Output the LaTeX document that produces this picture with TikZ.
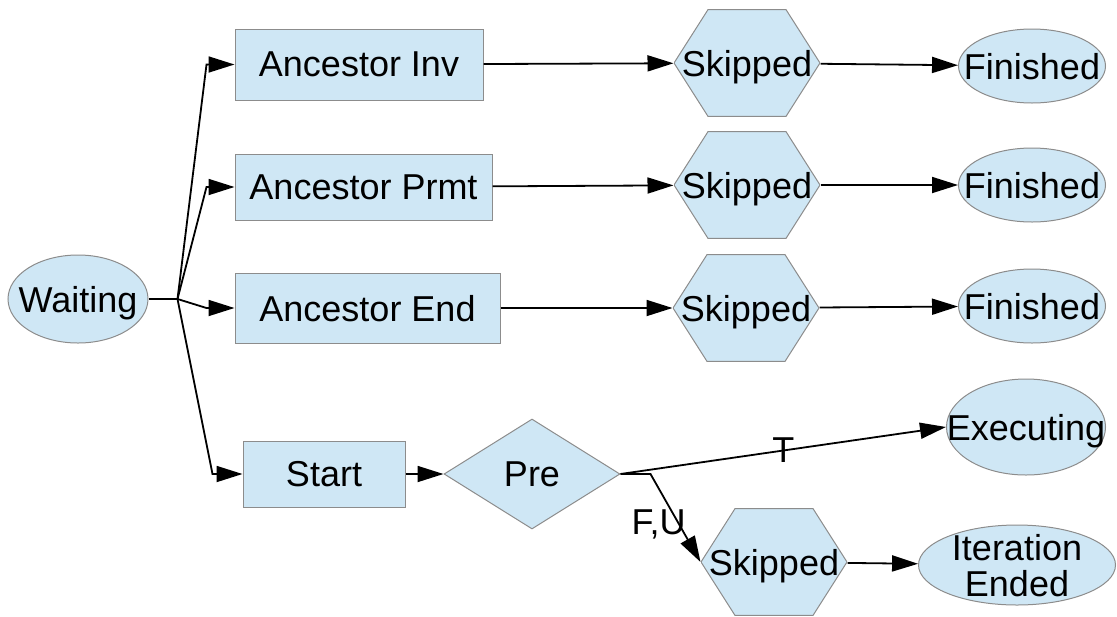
\documentclass[tikz,border=0pt]{standalone}
\usepackage{fontspec}
\setmainfont{Liberation Sans}
\usetikzlibrary{arrows.meta,shapes.geometric}

\definecolor{stfill}{RGB}{207,231,245}
\definecolor{stline}{RGB}{140,140,140}

\begin{document}
\begin{tikzpicture}[x=0.5pt,y=-0.5pt,>={Triangle[length=13pt,width=8pt]},line width=0.9pt,
    every node/.style={font=\fontsize{18}{18}\selectfont,line width=0.5pt,text depth=0pt},
    box/.style={rectangle,draw=stline,fill=stfill,inner sep=0pt},
    oval/.style={ellipse,draw=stline,fill=stfill,inner sep=0pt},
    cond/.style={diamond,draw=stline,fill=stfill,inner sep=0pt,minimum width=88pt,minimum height=55pt},
    hexbox/.style={rectangle,inner sep=0pt,minimum width=73pt,minimum height=54pt,
      path picture={\draw[stline,fill=stfill,line width=0.5pt]
        ([xshift=17pt,yshift=-0.3pt]path picture bounding box.north west)
        -- ([xshift=-17pt,yshift=-0.3pt]path picture bounding box.north east)
        -- (path picture bounding box.east)
        -- ([xshift=-17pt,yshift=0.3pt]path picture bounding box.south east)
        -- ([xshift=17pt,yshift=0.3pt]path picture bounding box.south west)
        -- (path picture bounding box.west) -- cycle;}},
    lbl/.style={inner sep=1pt}]
  \useasboundingbox (0,0) rectangle (1117,616);

  \node[oval,minimum width=70pt,minimum height=44pt,label=center:Waiting] (wait) at (78,299) {};
  \node[box,minimum width=124pt,minimum height=35.5pt] (inv) at (359,64.5) {Ancestor Inv};
  \node[box,minimum width=128.5pt,minimum height=33pt] (prmt) at (363.5,187) {Ancestor Prmt};
  \node[box,minimum width=132.5pt,minimum height=35pt] (end) at (367.5,308) {Ancestor End};
  \node[box,minimum width=81pt,minimum height=33pt] (start) at (324,474) {Start};
  \node[cond] (pre) at (532,474) {Pre};

  \node[hexbox] (skipinv) at (747,63) {Skipped};
  \node[hexbox] (skipprmt) at (747,185) {Skipped};
  \node[hexbox] (skipend) at (746,308) {Skipped};
  \node[hexbox] (skippre) at (774,562) {Skipped};

  \node[oval,minimum width=73.5pt,minimum height=37pt,label=center:Finished] (fininv) at (1032,66) {};
  \node[oval,minimum width=73.5pt,minimum height=37pt,label=center:Finished] (finprmt) at (1032,185) {};
  \node[oval,minimum width=73.5pt,minimum height=37pt,label=center:Finished] (finend) at (1032,306) {};
  \node[oval,minimum width=79.5pt,minimum height=48pt,label=center:Executing] (exec) at (1026,427) {};
  \node[oval,minimum width=98.5pt,minimum height=40pt,
    label={[align=center]center:Iteration\\Ended}] (iter) at (1017,565) {};

  \draw (wait.east) -- ++(29,0) coordinate (fork);
  \draw[->] (fork) -- ([xshift=-14pt]inv.west) -- (inv.west);
  \draw[->] (fork) -- ([xshift=-14pt]prmt.west) -- (prmt.west);
  \draw[->] (fork) -- ([xshift=-14pt]end.west) -- (end.west);
  \draw[->] (fork) -- ([xshift=-15pt]start.west) -- (start.west);

  \path[->] (inv) edge (skipinv)
    (prmt) edge (skipprmt)
    (end) edge (skipend)
    (skipinv) edge (fininv)
    (skipprmt) edge (finprmt)
    (skipend) edge (finend)
    (start) edge (pre)
    (skippre) edge (iter);

  \draw[->] (pre.east) -- node[lbl] {T} (exec.west);
  \draw[->] (pre.east) -- ([xshift=15pt]pre.east)
    -- node[lbl,pos=.55,left=-5pt] {F,U} (skippre.west);
\end{tikzpicture}
\end{document}
